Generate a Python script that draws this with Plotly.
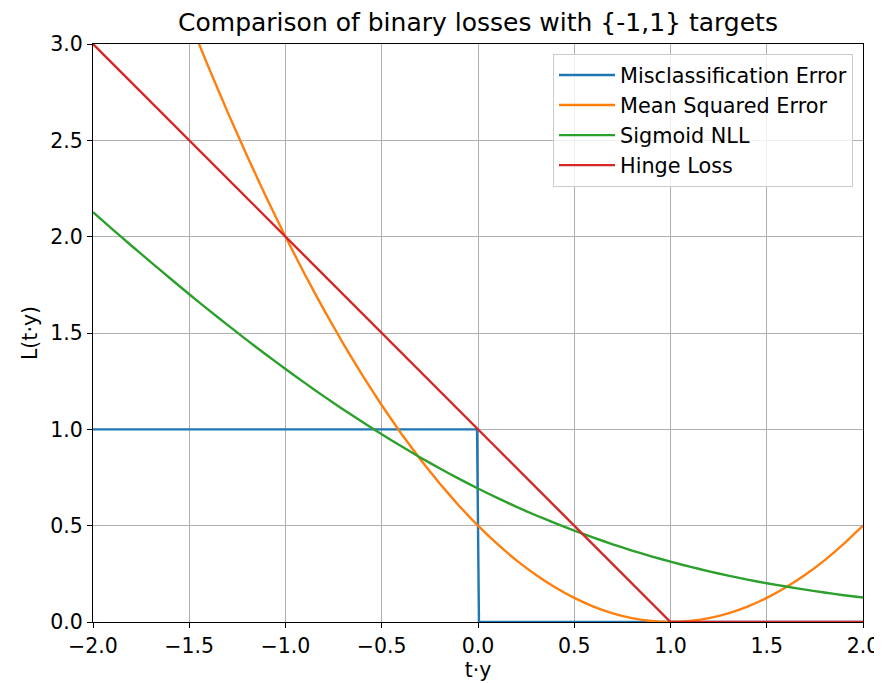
import plotly.graph_objects as go

# x samples for smooth curves
x_curve = [-2.0, -1.9, -1.8, -1.7, -1.6, -1.5, -1.4, -1.3, -1.2, -1.1, -1.0,
           -0.9, -0.8, -0.7, -0.6, -0.5, -0.4, -0.3, -0.2, -0.1, 0.0,
           0.1, 0.2, 0.3, 0.4, 0.5, 0.6, 0.7, 0.8, 0.9, 1.0,
           1.1, 1.2, 1.3, 1.4, 1.5, 1.6, 1.7, 1.8, 1.9, 2.0]

mse_values = [4.5, 4.205, 3.92, 3.645, 3.38, 3.125, 2.88, 2.645, 2.42, 2.205, 2.0,
              1.805, 1.62, 1.445, 1.28, 1.125, 0.98, 0.845, 0.72, 0.605, 0.5,
              0.405, 0.32, 0.245, 0.18, 0.125, 0.08, 0.045, 0.02, 0.005, 0.0,
              0.005, 0.02, 0.045, 0.08, 0.125, 0.18, 0.245, 0.32, 0.405, 0.5]

nll_values = [2.127, 2.039, 1.953, 1.868, 1.784, 1.701, 1.620, 1.541, 1.463, 1.387, 1.313,
              1.241, 1.171, 1.103, 1.038, 0.974, 0.913, 0.854, 0.798, 0.744, 0.693,
              0.644, 0.598, 0.554, 0.513, 0.474, 0.438, 0.403, 0.371, 0.341, 0.313,
              0.287, 0.263, 0.241, 0.220, 0.201, 0.184, 0.168, 0.153, 0.139, 0.127]

miscls_x = [-2.0, -0.005, 0.005, 2.0]
miscls_values = [1.0, 1.0, 0.0, 0.0]

hinge_x = [-2.0, 1.0, 2.0]
hinge_values = [3.0, 0.0, 0.0]

series_names = ["Misclassification Error", "Mean Squared Error", "Sigmoid NLL", "Hinge Loss"]
colors = ["#1f77b4", "#ff7f0e", "#2ca02c", "#d62728"]

tick_vals_x = [-2.0, -1.5, -1.0, -0.5, 0.0, 0.5, 1.0, 1.5, 2.0]
tick_vals_y = [0.0, 0.5, 1.0, 1.5, 2.0, 2.5, 3.0]

FONT = "DejaVu Sans"
W, H = 882, 683
OFF = 8  # page body offset
L, T = 93 - OFF, 44 - OFF
R = W - (863 - OFF)
B = H - (622 - OFF)

fig = go.Figure()
data = [(miscls_x, miscls_values), (x_curve, mse_values), (x_curve, nll_values), (hinge_x, hinge_values)]
for (xs, ys), name, c in zip(data, series_names, colors):
    line = dict(color=c, width=2.4)
    if xs is x_curve:
        line.update(shape="spline", smoothing=0.3)
    fig.add_trace(go.Scatter(x=xs, y=ys, mode="lines", name=name, line=line))

axis_common = dict(
    showline=True, mirror=True, linecolor="black", linewidth=1.1,
    showgrid=True, gridcolor="#b0b0b0", gridwidth=1.1,
    ticks="outside", ticklen=5, tickwidth=1.1, tickcolor="black",
    tickfont=dict(family=FONT, size=20.5, color="black"),
    zeroline=False, tickformat=".1f",
)

pw = W - L - R
ph = H - T - B

fig.update_layout(
    width=W, height=H,
    margin=dict(l=L, r=R, t=T, b=B, autoexpand=False),
    paper_bgcolor="white", plot_bgcolor="white",
    font=dict(family=FONT, color="black"),
    title=dict(text="Comparison of binary losses with {-1,1} targets",
               font=dict(family=FONT, size=25, color="black"),
               x=(478 - OFF) / W, xanchor="center", xref="container",
               y=1 - (22 - OFF) / H, yanchor="middle", yref="container"),
    xaxis=dict(range=[-2, 2], tickvals=tick_vals_x,
               title=dict(text="t·y", font=dict(family=FONT, size=20.5), standoff=4),
               automargin=False, **axis_common),
    yaxis=dict(range=[0, 3], tickvals=tick_vals_y,
               title=dict(text="L(t·y)", font=dict(family=FONT, size=20.5), standoff=7),
               automargin=False, **axis_common),
    legend=dict(x=(853 - OFF - L) / pw, y=(H - B - (54 - OFF)) / ph,
                xanchor="right", yanchor="top",
                bgcolor="rgba(255,255,255,0.8)", bordercolor="#cccccc", borderwidth=1,
                itemwidth=56,
                font=dict(family=FONT, size=20.8, color="black")),
    showlegend=True,
)

fig.write_html("out.html")
